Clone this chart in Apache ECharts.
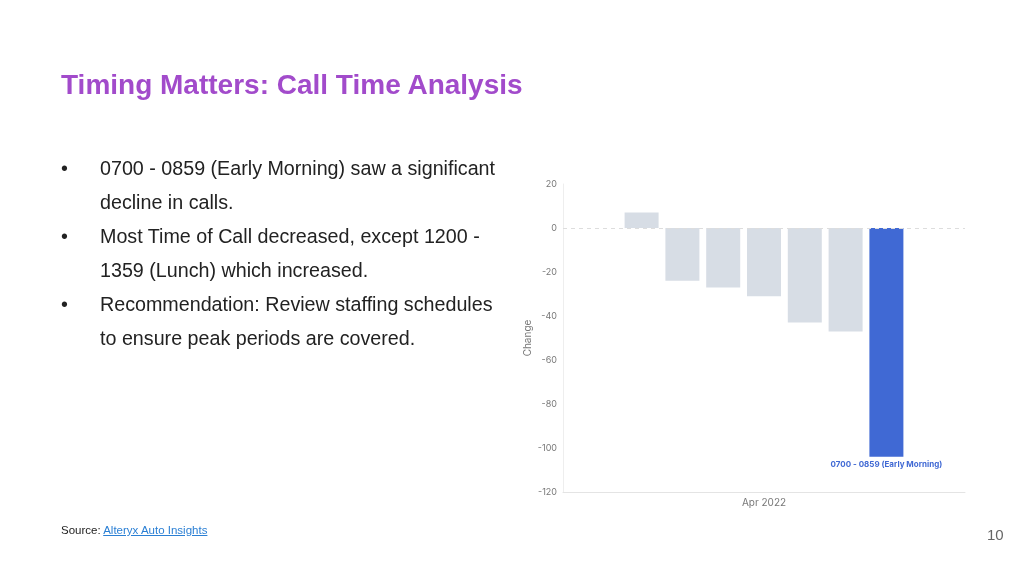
<!DOCTYPE html>
<html>
<head>
<meta charset="utf-8">
<script src="https://cdn.jsdelivr.net/npm/echarts@6/dist/echarts.min.js"></script>
<style>
  body { margin:0; width:1024px; height:576px; position:relative; background:#fff; font-family:"Liberation Sans", Arial, sans-serif; overflow:hidden; }
  .title { position:absolute; left:61px; top:69px; font-size:28px; font-weight:bold; color:#A24BCB; }
  .bullets { position:absolute; left:61px; top:151px; font-size:19.7px; color:#222; line-height:34px; }
  .bullets div { position:relative; padding-left:39px; }
  .bullets .b::before { content:"•"; position:absolute; left:0; }
  .source { position:absolute; left:61px; top:524px; font-size:11.5px; color:#222; }
  .source a { color:#2a7fd4; }
  .page { position:absolute; left:987px; top:526px; font-size:15px; color:#666; }
  .chart { position:absolute; left:0; top:0; width:1024px; height:576px; }
</style>
</head>
<body>
<div class="chart" id="chart"></div>
<div class="title">Timing Matters: Call Time Analysis</div>
<div class="bullets">
  <div class="b">0700 - 0859 (Early Morning) saw a significant</div>
  <div>decline in calls.</div>
  <div class="b">Most Time of Call decreased, except 1200 -</div>
  <div>1359 (Lunch) which increased.</div>
  <div class="b">Recommendation: Review staffing schedules</div>
  <div>to ensure peak periods are covered.</div>
</div>
<div class="source">Source: <a href="#">Alteryx Auto Insights</a></div>
<div class="page">10</div>
<script>
var categories = ['Apr 2022'];
var seriesNames = ['1200 - 1359 (Lunch)', '1000 - 1159 (Late Morning)', '1400 - 1559 (Early Afternoon)',
  '1600 - 1759 (Late Afternoon)', '1800 - 1959 (Evening)', '2000 - 2159 (Night)', '0700 - 0859 (Early Morning)'];
var seriesValues = [7, -24, -27, -31, -43, -47, -104];
var yTicks = { min: -120, max: 20, interval: 20 };

var series = seriesNames.map(function (name, i) {
  var last = i === seriesNames.length - 1;
  return {
    name: name,
    type: 'bar',
    data: [seriesValues[i]],
    barWidth: 34,
    barGap: '20%',
    barCategoryGap: '30%',
    itemStyle: { color: last ? '#4069D4' : '#D7DDE5' },
    label: {
      show: last, position: 'bottom', distance: 4, formatter: '{a}',
      color: '#4069D4', fontSize: 8, fontWeight: 'bold', fontFamily: 'Inter'
    },
    markLine: i === 0 ? {
      silent: true, symbol: 'none', label: { show: false },
      lineStyle: { color: '#ddd', type: [4, 4], width: 1 },
      data: [{ yAxis: 0 }]
    } : undefined,
    z: 3
  };
});

var myChart = echarts.init(document.getElementById('chart'));
myChart.setOption({
  animation: false,
  grid: { left: 563, right: 59, top: 184, bottom: 84 },
  xAxis: {
    type: 'category',
    data: categories,
    axisLine: { onZero: false, lineStyle: { color: '#e4e4e4' } },
    axisTick: { show: false },
    axisLabel: { color: '#777', fontSize: 10, fontFamily: 'Inter', margin: 6 }
  },
  yAxis: {
    type: 'value',
    min: yTicks.min, max: yTicks.max, interval: yTicks.interval,
    name: 'Change', nameLocation: 'middle', nameGap: 30,
    nameTextStyle: { color: '#777', fontSize: 10, fontFamily: 'Inter' },
    axisLine: { show: true, lineStyle: { color: '#eee' } },
    axisTick: { show: false },
    splitLine: { show: false },
    axisLabel: { color: '#777', fontSize: 9, fontFamily: 'Inter', margin: 6 }
  },
  series: series
});
</script>
</body>
</html>
